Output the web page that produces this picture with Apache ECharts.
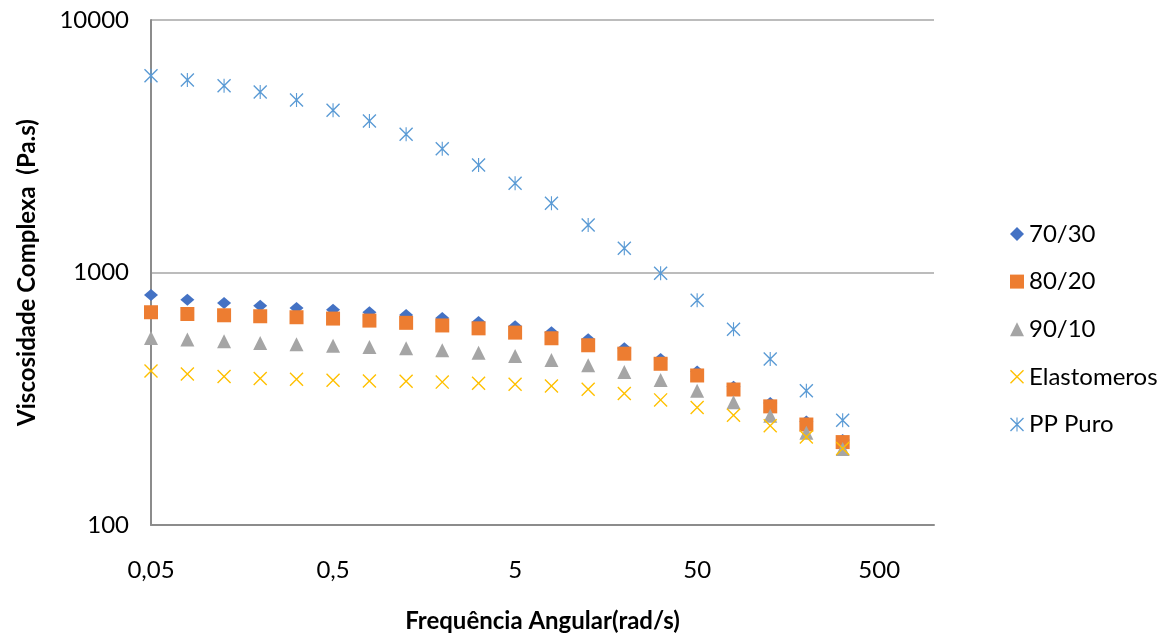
<!DOCTYPE html>
<html>
<head>
<meta charset="utf-8">
<script src="https://cdn.jsdelivr.net/npm/echarts@6/dist/echarts.min.js"></script>
<style>
  html, body { margin: 0; padding: 0; background: #ffffff; }
  #chart { width: 1169px; height: 635px; }
</style>
</head>
<body>
<div id="chart"></div>
<script>
// Angular frequency sweep (rad/s)
const frequencies = [0.05, 0.0792, 0.126, 0.199, 0.315, 0.5, 0.792, 1.26, 1.99, 3.15,
                     5, 7.92, 12.6, 19.9, 31.5, 50, 79.2, 126, 199, 315];

// Complex viscosity (Pa.s) per blend
const visc7030 = [814, 780, 757, 739, 723, 712, 696, 679, 660, 637,
                  612, 580, 544, 501, 454, 405, 353, 304, 257, 217];
const visc8020 = [696, 685, 677, 671, 665, 657, 645, 632, 617, 601,
                  578, 549, 515, 477, 435, 391, 344, 295, 250, 213];
const visc9010 = [550, 543, 534, 526, 520, 513, 507, 501, 492, 481,
                  467, 450, 429, 404, 375, 340, 306, 271, 232, 200];
const viscElastomeros = [407, 396, 387, 380, 378, 374, 372, 371, 368, 364,
                         361, 355, 345, 332, 313, 292, 272, 247, 223, 201];
const viscPPPuro = [6017, 5785, 5493, 5187, 4823, 4389, 3981, 3527, 3093, 2666,
                    2256, 1880, 1542, 1247, 993, 776, 596, 454, 340, 260];

const seriesNames = ['70/30', '80/20', '90/10', 'Elastomeros', 'PP Puro'];
const xTickValues = [0.05, 0.5, 5, 50, 500];
const yTickValues = [100, 1000, 10000];

const FONT = 'Lato';

// thin cross and six-armed asterisk markers (filled outlines, same winding)
const crossPath = 'path://M7,0L100,93L93,100L0,7Z M100,7L7,100L0,93L93,0Z';
const asteriskPath = 'path://M7,0L100,93L93,100L0,7Z M100,7L7,100L0,93L93,0Z M46,0L54,0L54,100L46,100Z';

function pairs(values) {
  return frequencies.map((f, i) => [f, values[i]]);
}

// plain numbers, decimal comma, no thousands separator
function plainNumber(v) {
  return String(Number(Number(v).toPrecision(6))).replace('.', ',');
}

const chart = echarts.init(document.getElementById('chart'), null, { renderer: 'canvas' });

chart.setOption({
  animation: false,
  backgroundColor: '#ffffff',
  textStyle: { fontFamily: FONT },
  grid: { left: 151, right: 235, top: 20, bottom: 110, outerBoundsMode: 'none' },
  legend: {
    orient: 'vertical',
    left: 1005,
    top: 217,
    itemWidth: 14,
    itemHeight: 14,
    itemGap: 23.6,
    textStyle: { fontFamily: FONT, fontSize: 24, lineHeight: 24, color: '#000000' },
    data: seriesNames
  },
  xAxis: {
    type: 'log',
    logBase: 10,
    min: 0.05,
    max: 1000,
    axisLine: { show: true, onZero: false, lineStyle: { color: '#8c8c8c', width: 2 } },
    axisTick: { show: false },
    splitLine: { show: false },
    minorTick: { show: false },
    minorSplitLine: { show: false },
    axisLabel: {
      customValues: xTickValues,
      formatter: plainNumber,
      margin: 33,
      fontFamily: FONT,
      fontSize: 24,
      color: '#000000'
    },
    name: 'Frequência Angular(rad/s)',
    nameLocation: 'middle',
    nameGap: 84,
    nameTextStyle: { fontFamily: FONT, fontSize: 24, fontWeight: 'bold', color: '#000000' }
  },
  yAxis: {
    type: 'log',
    logBase: 10,
    min: 100,
    max: 10000,
    axisLine: { show: true, onZero: false, lineStyle: { color: '#8c8c8c', width: 2 } },
    axisTick: { show: false },
    splitLine: { show: true, lineStyle: { color: '#a6a6a6', width: 1.5 } },
    minorTick: { show: false },
    minorSplitLine: { show: false },
    axisLabel: {
      customValues: yTickValues,
      formatter: plainNumber,
      margin: 22,
      fontFamily: FONT,
      fontSize: 24,
      color: '#000000'
    },
    name: 'Viscosidade Complexa  (Pa.s)',
    nameLocation: 'middle',
    nameGap: 112,
    nameTextStyle: { fontFamily: FONT, fontSize: 24, fontWeight: 'bold', color: '#000000' }
  },
  series: [
    {
      name: seriesNames[0], type: 'scatter', data: pairs(visc7030),
      symbol: 'diamond', symbolSize: [14, 12],
      itemStyle: { color: '#4472C4', opacity: 1 }
    },
    {
      name: seriesNames[1], type: 'scatter', data: pairs(visc8020),
      symbol: 'rect', symbolSize: 14,
      itemStyle: { color: '#ED7D31', opacity: 1 }
    },
    {
      name: seriesNames[2], type: 'scatter', data: pairs(visc9010),
      symbol: 'triangle', symbolSize: 14,
      itemStyle: { color: '#A5A5A5', opacity: 1 }
    },
    {
      name: seriesNames[3], type: 'scatter', data: pairs(viscElastomeros),
      symbol: crossPath, symbolSize: 14,
      itemStyle: { color: '#FFC000', opacity: 1 }
    },
    {
      name: seriesNames[4], type: 'scatter', data: pairs(viscPPPuro),
      symbol: asteriskPath, symbolSize: 14,
      itemStyle: { color: '#5B9BD5', opacity: 1 }
    }
  ]
});
</script>
</body>
</html>
